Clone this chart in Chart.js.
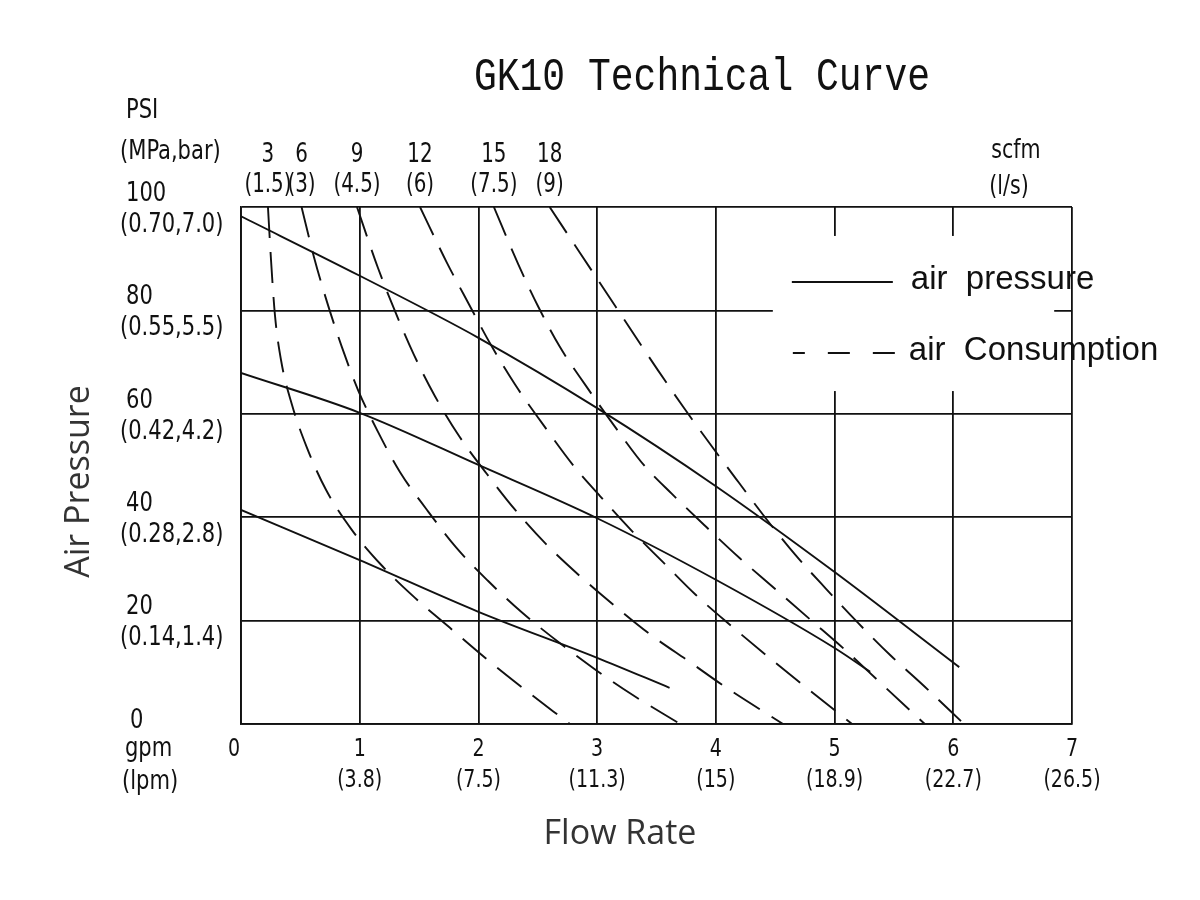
<!DOCTYPE html>
<html>
<head>
<meta charset="utf-8">
<title>GK10 Technical Curve</title>
<script src="https://cdn.jsdelivr.net/npm/chart.js@4.4.1/dist/chart.umd.min.js"></script>
<style>
  html, body { margin: 0; padding: 0; background: #fff; }
  canvas { display: block; }
</style>
</head>
<body>
<canvas id="chart" width="1200" height="900"></canvas>
<script>
// flow rate axis: gpm with lpm underneath
const flowTicks = [0, 1, 2, 3, 4, 5, 6, 7];
const flowLpm = ['', '(3.8)', '(7.5)', '(11.3)', '(15)', '(18.9)', '(22.7)', '(26.5)'];
// air pressure axis: psi with (MPa,bar) underneath
const psiTicks = [0, 20, 40, 60, 80, 100];
const psiMetric = ['', '(0.14,1.4)', '(0.28,2.8)', '(0.42,4.2)', '(0.55,5.5)', '(0.70,7.0)'];
// air consumption curve labels, scfm over l/s
const scfmLabels = ['3', '6', '9', '12', '15', '18'];
const lsLabels = ['(1.5)', '(3)', '(4.5)', '(6)', '(7.5)', '(9)'];

// air pressure lines (x = gpm, y = psi)
const pressHigh = [{x:0,y:98.2},{x:1,y:86.7},{x:2,y:74.7},{x:3,y:61.1},{x:4,y:46},{x:5,y:29.4},{x:6.05,y:11}];
const pressMid = [{x:0,y:67.9},{x:1,y:60.2},{x:2,y:50.1},{x:3,y:39.8},{x:4,y:27.9},{x:5,y:14.7},{x:5.3,y:10.1}];
const pressLow = [{x:0,y:41.4},{x:1,y:31.7},{x:2,y:21.7},{x:3,y:12.8},{x:3.61,y:7}];

// air consumption curves (x = gpm, y = psi)
const cons3 = [{x:0.227,y:100},{x:0.253,y:89.7},{x:0.286,y:79.1},{x:0.337,y:70.4},{x:0.43,y:61.7},{x:0.556,y:53.4},{x:0.716,y:45.3},{x:0.935,y:37.5},{x:1.18,y:30.8},{x:1.466,y:24.4},{x:1.76,y:18.6},{x:2.056,y:12.8},{x:2.36,y:7.2},{x:2.77,y:0}];
const cons6 = [{x:0.51,y:100},{x:0.615,y:90.3},{x:0.725,y:81.6},{x:0.85,y:72.9},{x:0.986,y:64.6},{x:1.154,y:56.5},{x:1.34,y:48.7},{x:1.567,y:41.4},{x:1.81,y:34.2},{x:2.08,y:27.7},{x:2.36,y:21.7},{x:2.66,y:16.1},{x:2.98,y:10.6},{x:3.3,y:5.6},{x:3.7,y:0}];
const cons9 = [{x:0.977,y:100},{x:1.154,y:88.2},{x:1.3,y:79.7},{x:1.457,y:71.4},{x:1.634,y:63.4},{x:1.837,y:55.7},{x:2.07,y:48.4},{x:2.31,y:41.4},{x:2.57,y:34.8},{x:2.856,y:28.6},{x:3.15,y:22.8},{x:3.454,y:17.2},{x:3.78,y:12},{x:4.09,y:7},{x:4.566,y:0}];
const cons12 = [{x:1.508,y:100},{x:1.735,y:89.2},{x:1.92,y:81.2},{x:2.106,y:73.3},{x:2.31,y:65.6},{x:2.536,y:58.2},{x:2.81,y:49.7},{x:3.016,y:44.3},{x:3.286,y:37.5},{x:3.555,y:31.3},{x:3.83,y:25},{x:4.128,y:19},{x:4.43,y:13.2},{x:4.735,y:7.5},{x:5.147,y:0}];
const cons15 = [{x:2.13,y:100},{x:2.334,y:89},{x:2.5,y:80.9},{x:2.687,y:72.9},{x:2.906,y:65.4},{x:3.134,y:58},{x:3.4,y:49.9},{x:3.63,y:44.5},{x:3.92,y:38.1},{x:4.2,y:32.1},{x:4.5,y:26.1},{x:4.79,y:20.3},{x:5.09,y:14.3},{x:5.38,y:8.1},{x:5.76,y:0}];
const cons18 = [{x:2.6,y:100},{x:2.856,y:91.1},{x:3.067,y:83.8},{x:3.286,y:76.2},{x:3.51,y:68.5},{x:3.72,y:61.5},{x:3.95,y:54.2},{x:4.19,y:46.8},{x:4.42,y:39.8},{x:4.67,y:32.7},{x:4.93,y:26.1},{x:5.2,y:19.5},{x:5.47,y:13.3},{x:5.76,y:7.2},{x:6.09,y:0}];

const ink = '#111';
const labelFont = '26px "DejaVu Sans Condensed", "Liberation Sans", sans-serif';
const xLabelFont = '24px "DejaVu Sans Condensed", "Liberation Sans", sans-serif';

function pressureLine(data) {
  return { label: 'air pressure', data, borderColor: ink, borderWidth: 1.9, pointRadius: 0, fill: false, cubicInterpolationMode: 'monotone' };
}
function consumptionLine(data) {
  return { label: 'air Consumption', data, borderColor: ink, borderWidth: 1.9, borderDash: [31, 14], pointRadius: 0, fill: false, cubicInterpolationMode: 'monotone' };
}

// squeezed text, the drawing font is narrower than anything installed
function narrowText(ctx, text, x, y, sx) {
  ctx.save();
  ctx.translate(x, y);
  ctx.scale(sx, 1);
  ctx.fillText(text, 0, 0);
  ctx.restore();
}

// text round the plot, legend box and title
const annotations = {
  id: 'annotations',
  beforeDatasetsDraw(chart) {
    // the legend sits on a white patch that hides the grid
    const { ctx, scales: { x, y } } = chart;
    const l = x.getPixelForValue(4.48), r = x.getPixelForValue(6.85);
    const t = y.getPixelForValue(94.4), b = y.getPixelForValue(64.4);
    ctx.save();
    ctx.fillStyle = '#fff';
    ctx.fillRect(l, t, r - l, b - t);
    ctx.restore();
  },
  afterDraw(chart) {
    const { ctx, chartArea: area, scales: { x, y } } = chart;
    ctx.save();
    ctx.fillStyle = ink;

    // title
    ctx.save();
    ctx.font = '38px "Liberation Mono", "DejaVu Sans Mono", monospace';
    ctx.textAlign = 'center';
    ctx.textBaseline = 'alphabetic';
    ctx.translate(702, 90);
    ctx.scale(1, 1.2);
    ctx.fillText('GK10 Technical Curve', 0, 0);
    ctx.restore();

    // y tick labels
    ctx.font = labelFont;
    ctx.textAlign = 'left';
    ctx.textBaseline = 'middle';
    psiTicks.forEach((v, i) => {
      const py = y.getPixelForValue(v);
      if (psiMetric[i]) {
        narrowText(ctx, String(v), area.left - 115, py - 13, 0.9);
        narrowText(ctx, psiMetric[i], area.left - 121, py + 18, 0.9);
      } else {
        narrowText(ctx, String(v), area.left - 111, py - 3, 0.9);
      }
    });
    narrowText(ctx, 'PSI', area.left - 115, area.top - 96, 0.9);
    narrowText(ctx, '(MPa,bar)', area.left - 121, area.top - 55, 0.9);
    narrowText(ctx, 'gpm', area.left - 116, area.bottom + 25, 0.9);
    narrowText(ctx, '(lpm)', area.left - 119, area.bottom + 58, 0.9);

    // x tick labels
    ctx.font = xLabelFont;
    ctx.textAlign = 'center';
    flowTicks.forEach((v, i) => {
      const px = x.getPixelForValue(v);
      narrowText(ctx, String(v), i === 0 ? px - 7 : px, area.bottom + 26, 0.88);
      if (flowLpm[i]) narrowText(ctx, flowLpm[i], px, area.bottom + 57, 0.88);
    });

    // air consumption labels above the start of each dashed curve
    ctx.font = labelFont;
    [cons3, cons6, cons9, cons12, cons15, cons18].forEach((c, i) => {
      const px = x.getPixelForValue(c[0].x);
      narrowText(ctx, scfmLabels[i], px, area.top - 52, 0.85);
      narrowText(ctx, lsLabels[i], px, area.top - 22, 0.85);
    });
    narrowText(ctx, 'scfm', area.right - 56, area.top - 56, 0.88);
    narrowText(ctx, '(l/s)', area.right - 63, area.top - 20, 0.88);

    // axis titles
    ctx.fillStyle = '#333';
    ctx.font = '34px "Open Sans", "Noto Sans", sans-serif';
    ctx.fillText('Flow Rate', area.left + 379, area.bottom + 110);
    ctx.save();
    ctx.translate(area.left - 162, (area.top + area.bottom) / 2 + 16);
    ctx.rotate(-Math.PI / 2);
    ctx.fillText('Air Pressure', 0, 0);
    ctx.restore();

    // legend
    const bl = x.getPixelForValue(4.48), bt = y.getPixelForValue(94.4);
    ctx.fillStyle = ink;
    ctx.strokeStyle = ink;
    ctx.lineWidth = 1.9;
    ctx.beginPath();
    ctx.moveTo(bl + 19, bt + 46);
    ctx.lineTo(bl + 120, bt + 46);
    ctx.stroke();
    ctx.setLineDash([22, 23]);
    ctx.lineDashOffset = 10;
    ctx.beginPath();
    ctx.moveTo(bl + 20, bt + 117);
    ctx.lineTo(bl + 123, bt + 117);
    ctx.stroke();
    ctx.setLineDash([]);
    ctx.font = '33px "Liberation Sans", "DejaVu Sans", sans-serif';
    ctx.textAlign = 'left';
    ctx.fillText('air  pressure', bl + 138, bt + 44);
    ctx.fillText('air  Consumption', bl + 136, bt + 115);

    ctx.restore();
  }
};

const config = {
  type: 'line',
  data: {
    datasets: [
      pressureLine(pressHigh),
      pressureLine(pressMid),
      pressureLine(pressLow),
      consumptionLine(cons3),
      consumptionLine(cons6),
      consumptionLine(cons9),
      consumptionLine(cons12),
      consumptionLine(cons15),
      consumptionLine(cons18)
    ]
  },
  options: {
    responsive: false,
    animation: false,
    devicePixelRatio: 1,
    layout: { padding: { left: 241, right: 128, top: 207, bottom: 176 } },
    plugins: { legend: { display: false }, tooltip: { enabled: false } },
    scales: {
      x: {
        type: 'linear', min: 0, max: 7,
        ticks: { stepSize: 1, display: false },
        grid: { color: ink, lineWidth: 1.8, drawTicks: false },
        border: { color: ink, width: 1.8 }
      },
      y: {
        type: 'linear', min: 0, max: 100,
        ticks: { stepSize: 20, display: false },
        grid: { color: ink, lineWidth: 1.8, drawTicks: false },
        border: { color: ink, width: 1.8 }
      }
    }
  },
  plugins: [annotations]
};

const myChart = new Chart(document.getElementById('chart').getContext('2d'), config);
</script>
</body>
</html>
